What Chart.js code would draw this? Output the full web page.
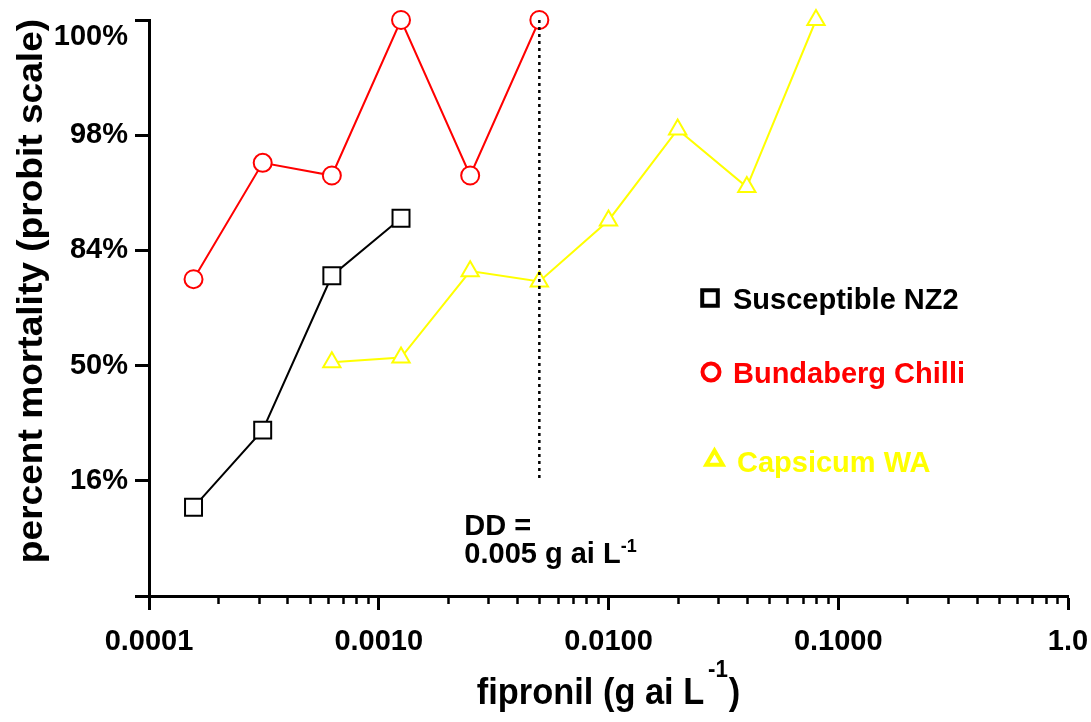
<!DOCTYPE html>
<html>
<head>
<meta charset="utf-8">
<script src="https://cdn.jsdelivr.net/npm/chart.js@4.4.1/dist/chart.umd.min.js"></script>
<style>
html, body { margin: 0; padding: 0; background: #fff; }
#wrap { width: 1091px; height: 722px; }
</style>
</head>
<body>
<div id="wrap"><canvas id="c" width="1091" height="722"></canvas></div>
<script>
// Fipronil doses (g ai per litre), a doubling dilution series
const doses = [0.00015625, 0.0003125, 0.000625, 0.00125, 0.0025, 0.005, 0.01, 0.02, 0.04, 0.08];

// Mortality as normal equivalent deviates (probit - 5); null = dose not tested
const nz2Probit       = [-1.23, -0.56, 0.78, 1.28, null, null, null, null, null, null];
const bundabergProbit = [0.75, 1.76, 1.65, 3.0, 1.65, 3.0, null, null, null, null];
const capsicumProbit  = [null, null, 0.03, 0.07, 0.82, 0.73, 1.26, 2.05, 1.55, 3.0];

const seriesNames = ['Susceptible NZ2', 'Bundaberg Chilli', 'Capsicum WA'];

// Probit axis: positions and their percent labels
const probitTicks = [-2, -1, 0, 1, 2, 3];
const probitTickLabels = ['', '16%', '50%', '84%', '98%', '100%'];

// Dose axis: decade ticks and labels
const doseTicks = [0.0001, 0.001, 0.01, 0.1, 1];
const doseTickLabels = ['0.0001', '0.0010', '0.0100', '0.1000', '1.0'];

// Discriminating dose
const discriminatingDose = 0.005;

const FONT = "'Liberation Sans', Arial, Helvetica, sans-serif";
const COLORS = ['#000000', '#ff0000', '#ffff00'];

// Draws a run of text pieces, some of them raised and smaller (superscripts)
function drawRich(ctx, parts, x, y, size, opts) {
  const o = Object.assign({ align: 'left', supSize: 0.65, supRaise: 0.4, squeeze: 1 }, opts || {});
  const fontFor = sup => `bold ${sup ? Math.round(size * o.supSize) : size}px ${FONT}`;
  let total = 0;
  const widths = parts.map(p => {
    ctx.font = fontFor(p.sup);
    const w = ctx.measureText(p.t).width + (p.pre || 0) + (p.gap || 0);
    total += w;
    return w;
  });
  ctx.save();
  ctx.translate(x, y);
  ctx.scale(o.squeeze, 1);
  let cx = o.align === 'center' ? -total / 2 : 0;
  ctx.textBaseline = 'alphabetic';
  ctx.textAlign = 'left';
  parts.forEach((p, i) => {
    ctx.font = fontFor(p.sup);
    ctx.fillText(p.t, cx + (p.pre || 0), p.sup ? -size * o.supRaise : 0);
    cx += widths[i];
  });
  ctx.restore();
}

const decorations = {
  id: 'decorations',
  afterDatasetsDraw(chart) {
    const { ctx, scales: { x, y } } = chart;
    // dotted line marking the discriminating dose
    const px = x.getPixelForValue(discriminatingDose);
    ctx.save();
    ctx.strokeStyle = '#000';
    ctx.lineWidth = 2.5;
    ctx.setLineDash([3, 4]);
    ctx.beginPath();
    ctx.moveTo(px, y.getPixelForValue(3));
    ctx.lineTo(px, y.getPixelForValue(-1));
    ctx.stroke();
    ctx.restore();
  },
  afterDraw(chart) {
    const { ctx, chartArea, scales: { x, y } } = chart;

    // minor log ticks on the dose axis
    ctx.save();
    ctx.strokeStyle = '#000';
    ctx.lineWidth = 2.5;
    for (let e = -4; e < 0; e++) {
      for (let k = 2; k <= 9; k++) {
        const px = Math.round(x.getPixelForValue(k * Math.pow(10, e))) + 0.5;
        ctx.beginPath();
        ctx.moveTo(px, chartArea.bottom);
        ctx.lineTo(px, chartArea.bottom + 8);
        ctx.stroke();
      }
    }
    ctx.restore();

    ctx.save();
    ctx.fillStyle = '#000';

    // axis titles
    drawRich(ctx, [
      { t: 'fipronil (g ai L' },
      { t: '-1', sup: true, pre: 4, gap: 1 },
      { t: ')' }
    ], (chartArea.left + chartArea.right) / 2, 704, 37, { align: 'center', supRaise: 0.74, squeeze: 0.93 });

    ctx.save();
    ctx.translate(42, 291);
    ctx.rotate(-Math.PI / 2);
    ctx.scale(1.06, 1);
    ctx.font = `bold 35px ${FONT}`;
    ctx.textAlign = 'center';
    ctx.textBaseline = 'alphabetic';
    ctx.fillText('percent mortality (probit scale)', 0, 0);
    ctx.restore();

    // discriminating dose label
    const dx = x.getPixelForValue(discriminatingDose) - 75;
    drawRich(ctx, [{ t: 'DD =' }], dx, 535, 29);
    drawRich(ctx, [{ t: '0.005 g ai L' }, { t: '-1', sup: true }], dx, 563, 29, { supRaise: 0.38, supSize: 0.62 });

    // legend
    const legendItems = [
      { style: 'rect', r: 11, mx: 710, my: 298, tx: 733, ty: 309 },
      { style: 'circle', r: 8.5, mx: 711, my: 372, tx: 733, ty: 383 },
      { style: 'triangle', r: 9.5, mx: 714.5, my: 460, tx: 737, ty: 472 }
    ];
    legendItems.forEach((it, i) => {
      ctx.save();
      ctx.fillStyle = '#fff';
      ctx.strokeStyle = COLORS[i];
      ctx.lineWidth = 4;
      Chart.helpers.drawPoint(ctx, { pointStyle: it.style, radius: it.r, rotation: 0, borderWidth: 4 }, it.mx, it.my);
      ctx.restore();
      ctx.fillStyle = COLORS[i];
      drawRich(ctx, [{ t: seriesNames[i] }], it.tx, it.ty, 29);
    });
    ctx.restore();
  }
};

const tickFont = { family: FONT, size: 29, weight: 'bold' };
const axisGrid = { display: true, drawOnChartArea: false, drawTicks: true, tickLength: 14, tickWidth: 3, tickColor: '#000' };
const axisBorder = { display: true, color: '#000', width: 3 };

function series(i, data, style, radius) {
  return {
    label: seriesNames[i],
    data: data,
    borderColor: COLORS[i],
    backgroundColor: '#fff',
    borderWidth: 2,
    pointStyle: style,
    pointRadius: radius,
    pointBorderWidth: 2,
    pointBorderColor: COLORS[i],
    pointBackgroundColor: '#fff',
    tension: 0,
    clip: false
  };
}

new Chart(document.getElementById('c'), {
  type: 'line',
  data: {
    labels: doses,
    datasets: [
      series(2, capsicumProbit, 'triangle', 10),
      series(0, nz2Probit, 'rect', 12),
      series(1, bundabergProbit, 'circle', 9)
    ]
  },
  options: {
    responsive: false,
    animation: false,
    devicePixelRatio: 1,
    layout: { padding: { left: 0, top: 20, right: 23, bottom: 0 } },
    plugins: { legend: { display: false }, tooltip: { enabled: false } },
    scales: {
      x: {
        type: 'logarithmic',
        min: 0.0001,
        max: 1,
        afterBuildTicks: s => { s.ticks = doseTicks.map(v => ({ value: v, major: true })); },
        afterFit: s => { s.height = 126; s.paddingLeft = 0; s.paddingRight = 0; },
        ticks: {
          autoSkip: false, maxRotation: 0, minRotation: 0, padding: 15,
          color: '#000', font: tickFont,
          callback: (v, i) => doseTickLabels[i]
        },
        grid: axisGrid,
        border: axisBorder
      },
      y: {
        type: 'linear',
        min: -2,
        max: 3,
        afterBuildTicks: s => { s.ticks = probitTicks.map(v => ({ value: v })); },
        afterFit: s => { s.width = 149; s.paddingTop = 0; s.paddingBottom = 0; },
        ticks: {
          padding: 7, color: '#000', font: tickFont,
          // the top label sits just below its tick so it stays inside the canvas
          callback: (v, i, all) => (i === all.length - 1 ? ['', probitTickLabels[i]] : probitTickLabels[i])
        },
        grid: axisGrid,
        border: axisBorder
      }
    }
  },
  plugins: [decorations]
});
</script>
</body>
</html>
